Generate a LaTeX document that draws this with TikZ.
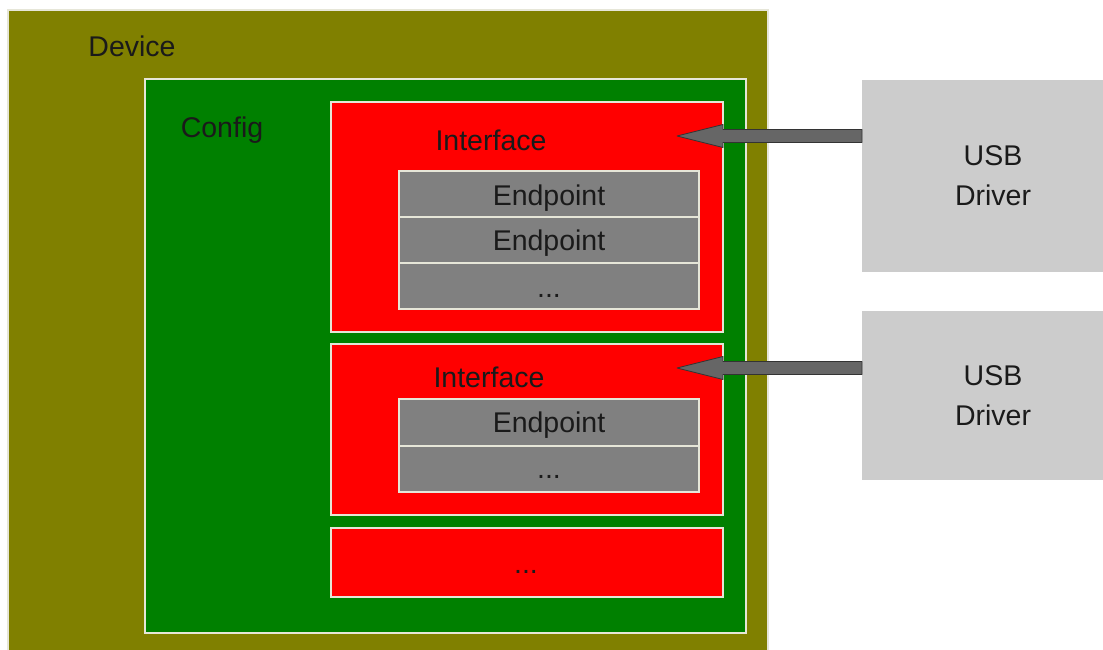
\documentclass[tikz,border=0pt]{standalone}
\usepackage{fontspec}
\setmainfont{Liberation Sans}
\usetikzlibrary{calc}
\definecolor{myolive}{HTML}{808000}
\definecolor{mygreen}{HTML}{008000}
\definecolor{myred}{HTML}{FF0000}
\definecolor{mygray}{HTML}{808080}
\definecolor{drvgray}{HTML}{CCCCCC}
\definecolor{boxline}{HTML}{E6E6D8}
\definecolor{arrowfill}{HTML}{666666}
\definecolor{arrowline}{HTML}{333333}
\definecolor{txt}{HTML}{1A1A1A}
\begin{document}
\begin{tikzpicture}[x=1pt,y=-1pt,
  box/.style={draw=boxline, line width=1.3pt, anchor=north west, inner sep=0pt, outer sep=0pt},
  drv/.style={fill=drvgray, anchor=north west, inner sep=0pt, outer sep=0pt, minimum width=260pt},
  lbl/.style={font=\fontsize{28.5}{36}\selectfont, text=txt, inner sep=0pt, anchor=base},
  conn/.style={fill=arrowfill, draw=arrowline, line width=0.8pt, line join=round}]
\useasboundingbox (0,0) rectangle (1103,650);
\clip (0,0) rectangle (1103,650);
\fill[white] (0,0) rectangle (1103,650);
% containers
\node[box, fill=myolive, minimum width=760pt, minimum height=660pt] (device) at (8,10) {};
\node[box, fill=mygreen, minimum width=601pt, minimum height=554pt] (config) at (145,79) {};
\node[box, fill=myred, minimum width=392pt, minimum height=230pt] (if1) at (331,102) {};
\node[box, fill=myred, minimum width=392pt, minimum height=171pt] (if2) at (331,344) {};
\node[box, fill=myred, minimum width=392pt, minimum height=69pt] (if3) at (331,528) {};
% endpoints
\node[box, fill=mygray, minimum width=300pt, minimum height=46pt] (ep1) at (399,171) {};
\node[box, fill=mygray, minimum width=300pt, minimum height=46pt] (ep2) at (399,217) {};
\node[box, fill=mygray, minimum width=300pt, minimum height=46pt] (ep3) at (399,263) {};
\node[box, fill=mygray, minimum width=300pt, minimum height=47pt] (ep4) at (399,399) {};
\node[box, fill=mygray, minimum width=300pt, minimum height=46pt] (ep5) at (399,446) {};
% drivers
\node[drv, minimum height=192pt] (drv1) at (862,80) {};
\node[drv, minimum height=169pt] (drv2) at (862,311) {};
% labels
\node[lbl] (tdev) at (132,57) {Device};
\node[lbl] (tcfg) at (222,138) {Config};
\node[lbl] (tif1) at (491,150) {Interface};
\node[lbl] (tif2) at (489,387) {Interface};
\node[lbl] at (ep1.center |- 0,205) {Endpoint};
\node[lbl] at (ep2.center |- 0,250) {Endpoint};
\node[lbl] at (ep3.center |- 0,297) {...};
\node[lbl] at (ep4.center |- 0,432) {Endpoint};
\node[lbl] at (ep5.center |- 0,478) {...};
\node[lbl] at (526,573) {...};
\node[lbl] at (993,165) {USB};
\node[lbl] at (993,205) {Driver};
\node[lbl] at (993,385) {USB};
\node[lbl] at (993,425) {Driver};
% arrows
\coordinate (tip1) at (677,136);
\coordinate (tip2) at (677,368);
\foreach \t/\d in {tip1/drv1, tip2/drv2}{
  \draw[conn] (\t) -- ($(\t)+(46,-11.5)$) -- ($(\t)+(46,-6.5)$) -- ($(\d.west|-\t)+(0,-6.5)$)
    -- ($(\d.west|-\t)+(0,6.5)$) -- ($(\t)+(46,6.5)$) -- ($(\t)+(46,11.5)$) -- cycle;
}
\end{tikzpicture}
\end{document}
